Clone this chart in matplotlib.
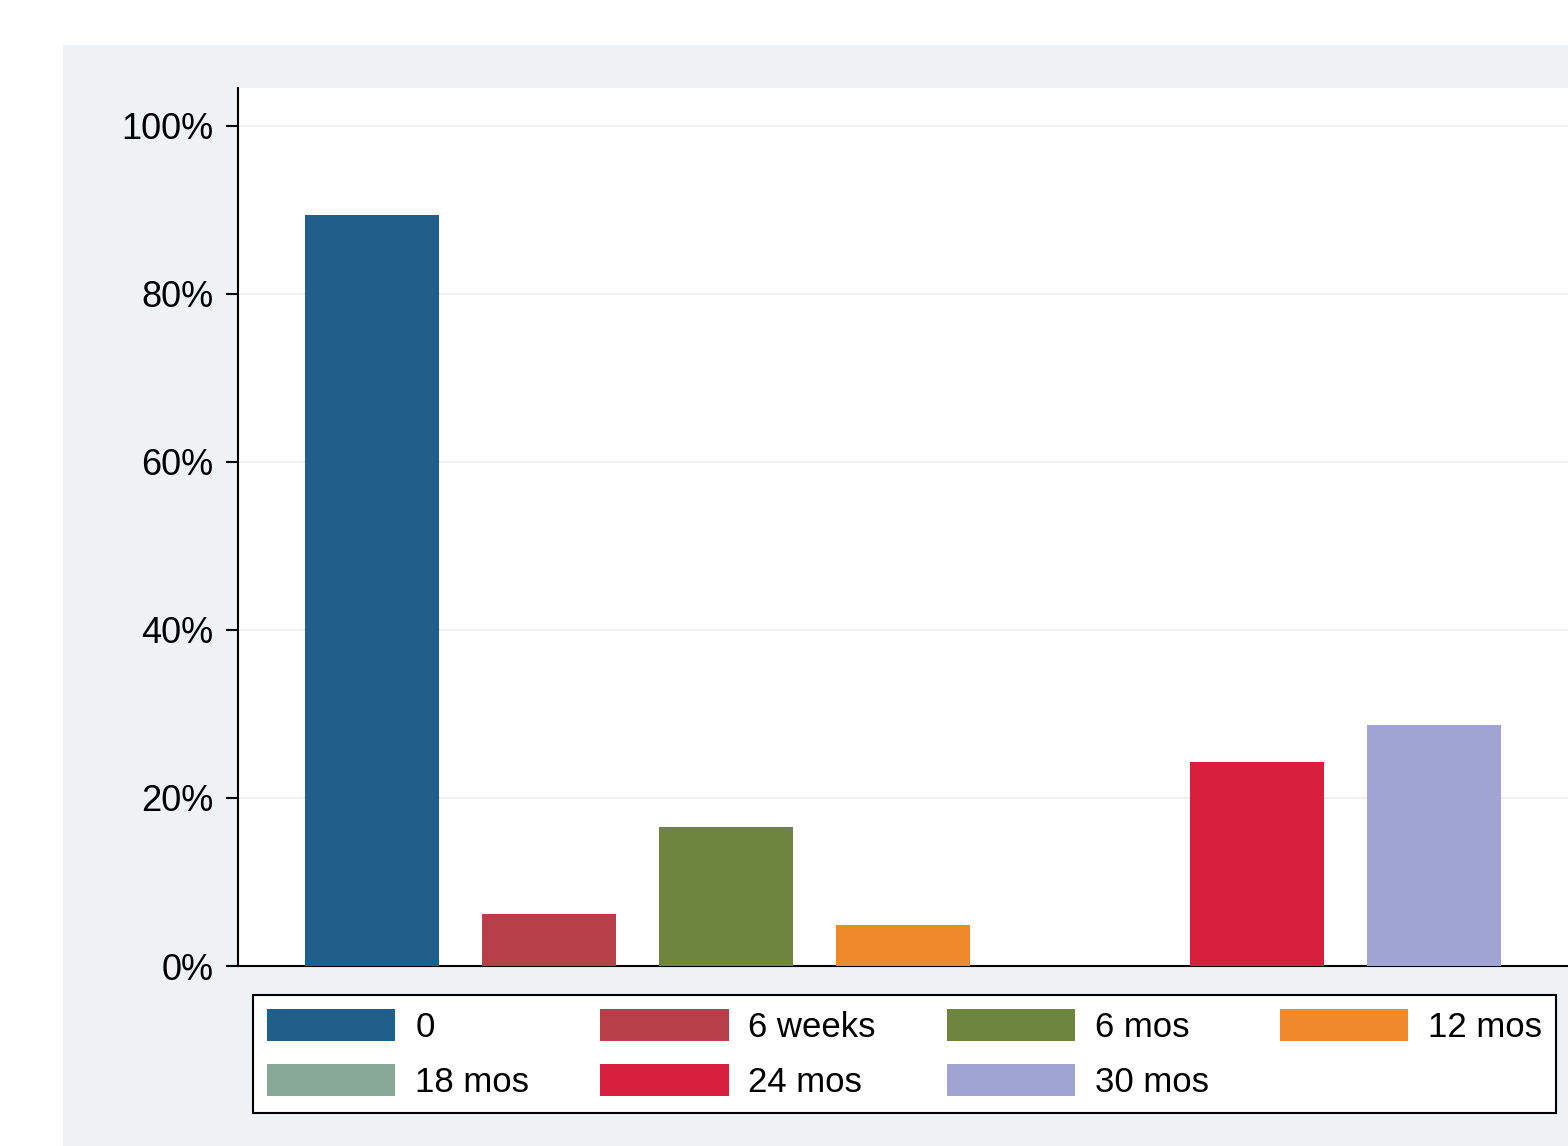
import matplotlib
matplotlib.use("Agg")
import matplotlib.pyplot as plt
from matplotlib.patches import Patch, Rectangle
import numpy as np

# data
groups = ["0", "6 weeks", "6 mos", "12 mos", "18 mos", "24 mos", "30 mos"]
pct = [89.4, 6.2, 16.6, 4.9, 0.0, 24.3, 28.7]
colors = ["#215f8b", "#b5404a", "#6e8540", "#ee8a2c", "#88a898", "#d8203e", "#a0a4d3"]
yticks = [0, 20, 40, 60, 80, 100]
ytick_labels = ["0%", "20%", "40%", "60%", "80%", "100%"]

plt.rcParams["font.family"] = ["Liberation Sans", "DejaVu Sans"]

W, H = 1568, 1146
fig = plt.figure(figsize=(W / 100, H / 100), dpi=100)
fig.patch.set_facecolor("white")

# light outer graph region (stata style), behind the axes
fig.patches.append(Rectangle((63 / W, 0), 1 - 63 / W, (H - 45) / H,
                             transform=fig.transFigure, facecolor="#eef2f4",
                             edgecolor="none", zorder=-10))

ax = fig.add_axes([238 / W, (H - 966) / H, (W - 238) / W, (966 - 88) / H])
ax.set_facecolor("white")

x = np.arange(len(groups))
ax.bar(x, pct, width=0.76, color=colors, linewidth=0, zorder=3)

ax.set_xlim(-0.757, 6.757)
ax.set_ylim(0, 104.5)
ax.set_yticks(yticks)
ax.set_yticklabels(ytick_labels)
ax.set_xticks([])
ax.yaxis.grid(True, color="#eef0f2", linewidth=1.5, zorder=0)
ax.set_axisbelow(True)

for side in ["top", "right"]:
    ax.spines[side].set_visible(False)
ax.spines["left"].set_linewidth(1.5)
ax.spines["bottom"].set_linewidth(1.5)
ax.tick_params(axis="y", length=9, width=1.5, pad=8.5, labelsize=26, colors="black")

handles = [Patch(facecolor=c, edgecolor="none") for c in colors]
order = [0, 4, 1, 5, 2, 6, 3]
leg = fig.legend([handles[i] for i in order], [groups[i] for i in order],
                 ncol=4, loc="center", mode="expand", borderaxespad=0,
                 bbox_to_anchor=(253 / W, (H - 1115) / H, (1556 - 253) / W, (1115 - 993) / H),
                 fontsize=25, handlelength=3.7, handleheight=1.03, handletextpad=0.57,
                 labelspacing=0.6, borderpad=0.4, fancybox=False, framealpha=1,
                 edgecolor="black", facecolor="white")
leg.get_frame().set_linewidth(1.5)

fig.savefig("out.png", dpi=100, facecolor=fig.get_facecolor())
